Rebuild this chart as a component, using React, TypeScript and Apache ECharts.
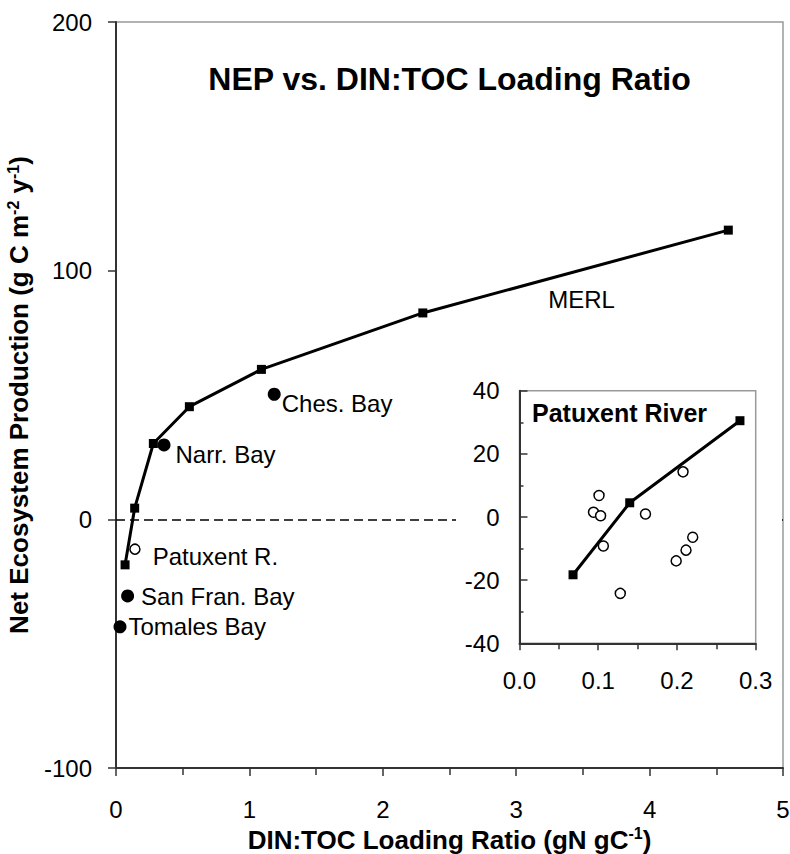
import React, { useEffect, useRef } from "react";
import * as echarts from "echarts";

const FONT = "'Liberation Sans', Arial, Helvetica, sans-serif";

const mainTitle = "NEP vs. DIN:TOC Loading Ratio";
const insetTitle = "Patuxent River";
const xAxisTitle = "DIN:TOC Loading Ratio (gN gC{sup|-1})";
const yAxisTitle = "Net Ecosystem Production (g C m{sup|-2} y{sup|-1})";

// MERL mesocosm model relationship (filled squares, solid line)
const modelRatio = [0.068, 0.14, 0.28, 0.55, 1.09, 2.3, 4.59];
const modelNEP = [-18.3, 4.5, 30.5, 45.3, 60.3, 83, 116.3];
const insetModelCount = 3;

// Estuaries (filled circles)
const estuaryNames = ["Tomales Bay", "San Fran. Bay", "Narr. Bay", "Ches. Bay"];
const estuaryRatio = [0.03, 0.087, 0.36, 1.186];
const estuaryNEP = [-43.2, -30.8, 29.9, 50.3];

// Patuxent R. mean (open circle on main chart)
const patuxentName = "Patuxent R.";
const patuxentRatio = [0.142];
const patuxentNEP = [-12];

// Patuxent River individual years (inset, open circles)
const yearRatio = [0.094, 0.101, 0.103, 0.1065, 0.128, 0.16, 0.199, 0.2077, 0.2115, 0.22];
const yearNEP = [1.5, 6.8, 0.4, -9.2, -24.2, 0.95, -13.9, 14.3, -10.5, -6.4];

// Free text label
const merlText = "MERL";
const merlRatio = [3.49];
const merlNEP = [88.6];

// label placement styles (distance, [dx, dy]) for estuary labels
const estuaryLabelStyle = [
  { distance: 2, offset: [0, 0] },
  { distance: 7, offset: [0, 1] },
  { distance: 5, offset: [0, 10] },
  { distance: 1, offset: [0, 9] },
];

const axisLineStyle = { color: "#333", width: 2 };
const tickLineStyle = { color: "#333", width: 1.5 };
const tickLabel = { fontSize: 24, color: "#000", fontFamily: FONT };

export default function App() {
  const ref = useRef<HTMLDivElement>(null);
  useEffect(() => {
    document.body.style.margin = "0";
    const chart = echarts.init(ref.current!, null, { renderer: "svg" });
    const nameStyle = {
      fontSize: 26,
      fontWeight: "bold",
      color: "#000",
      fontFamily: FONT,
      lineHeight: 28,
      rich: {
        sup: { fontSize: 16, fontWeight: "bold", color: "#000", fontFamily: FONT, verticalAlign: "top", lineHeight: 10 },
      },
    };
    const option: any = {
      animation: false,
      backgroundColor: "#fff",
      grid: [
        {
          left: 116, right: 7, top: 22, bottom: 86,
          show: true, borderColor: "#999", borderWidth: 1.5, backgroundColor: "transparent",
          z: 0, outerBoundsMode: "none",
        },
        {
          left: 519.5, right: 34.3, top: 390.7, bottom: 210.7,
          show: true, borderColor: "#999", borderWidth: 1.5, backgroundColor: "#fff",
          z: 60, outerBoundsMode: "none",
        },
      ],
      xAxis: [
        {
          gridIndex: 0, type: "value", min: 0, max: 5, interval: 1, z: 1,
          axisLine: { show: true, onZero: false, lineStyle: axisLineStyle },
          axisTick: { show: true, length: 8, lineStyle: tickLineStyle },
          minorTick: { show: true, splitNumber: 2, length: 7, lineStyle: tickLineStyle },
          axisLabel: { ...tickLabel, margin: 29 },
          splitLine: { show: false },
          name: xAxisTitle, nameLocation: "middle", nameGap: 55,
          nameTextStyle: nameStyle,
        },
        {
          gridIndex: 1, type: "value", min: 0, max: 0.3, interval: 0.1, z: 61,
          axisLine: { show: true, onZero: false, lineStyle: axisLineStyle },
          axisTick: { show: true, length: 7, lineStyle: tickLineStyle },
          minorTick: { show: true, splitNumber: 2, length: 6, lineStyle: tickLineStyle },
          axisLabel: { ...tickLabel, margin: 25, formatter: (v: number) => v.toFixed(1) },
          splitLine: { show: false },
        },
      ],
      yAxis: [
        {
          gridIndex: 0, type: "value", min: -100, max: 200, interval: 100, z: 1,
          axisLine: { show: true, onZero: false, lineStyle: axisLineStyle },
          axisTick: { show: true, length: 8, lineStyle: tickLineStyle },
          axisLabel: { ...tickLabel, margin: 24 },
          splitLine: { show: false },
          name: yAxisTitle, nameLocation: "middle", nameGap: 74,
          nameTextStyle: nameStyle,
        },
        {
          gridIndex: 1, type: "value", min: -40, max: 40, interval: 20, z: 61,
          axisLine: { show: true, onZero: false, lineStyle: axisLineStyle },
          axisTick: { show: true, inside: true, length: 8, lineStyle: tickLineStyle },
          minorTick: { show: true, splitNumber: 2, length: 4, lineStyle: tickLineStyle },
          axisLabel: { ...tickLabel, margin: 20 },
          splitLine: { show: false },
        },
      ],
      graphic: [
        {
          type: "rect", z: 50, silent: true,
          shape: { x: 456, y: 378, width: 326, height: 322 },
          style: { fill: "#fff" },
        },
        {
          type: "text", x: 449.5, y: 78.5, z: 100,
          style: {
            text: mainTitle, font: `bold 32px ${FONT}`, fill: "#000",
            textAlign: "center", textVerticalAlign: "middle",
          },
        },
        {
          type: "text", x: 532, y: 412.5, z: 100,
          style: {
            text: insetTitle, font: `bold 25px ${FONT}`, fill: "#000",
            textAlign: "left", textVerticalAlign: "middle",
          },
        },
      ],
      series: [
        {
          type: "line", xAxisIndex: 0, yAxisIndex: 0, z: 3,
          data: modelRatio.map((x, i) => [x, modelNEP[i]]),
          symbol: "rect", symbolSize: 9, showSymbol: true,
          lineStyle: { color: "#000", width: 3 },
          itemStyle: { color: "#000", opacity: 1 },
          markLine: {
            silent: true, symbol: ["none", "none"], label: { show: false },
            lineStyle: { color: "#000", width: 1.5, type: [9, 5] },
            data: [{ yAxis: 0 }],
          },
        },
        {
          type: "scatter", xAxisIndex: 0, yAxisIndex: 0, z: 4,
          symbol: "circle", symbolSize: 13,
          itemStyle: { color: "#000", opacity: 1 },
          data: estuaryNames.map((n, i) => ({
            name: n,
            value: [estuaryRatio[i], estuaryNEP[i]],
            label: {
              show: true, position: "right", formatter: n,
              distance: estuaryLabelStyle[i].distance, offset: estuaryLabelStyle[i].offset,
              fontSize: 24, color: "#000", fontFamily: FONT,
            },
          })),
        },
        {
          type: "scatter", xAxisIndex: 0, yAxisIndex: 0, z: 4,
          symbol: "circle", symbolSize: 10,
          itemStyle: { color: "#fff", borderColor: "#000", borderWidth: 1.5, opacity: 1 },
          data: patuxentRatio.map((x, i) => ({
            name: patuxentName,
            value: [x, patuxentNEP[i]],
            label: {
              show: true, position: "right", formatter: patuxentName,
              distance: 12, offset: [0, 7],
              fontSize: 24, color: "#000", fontFamily: FONT,
            },
          })),
        },
        {
          type: "scatter", xAxisIndex: 0, yAxisIndex: 0, z: 4,
          symbolSize: 0,
          itemStyle: { opacity: 1 },
          data: merlRatio.map((x, i) => ({ name: merlText, value: [x, merlNEP[i]] })),
          label: {
            show: true, position: "inside", formatter: merlText,
            fontSize: 24, color: "#000", fontFamily: FONT,
          },
        },
        {
          type: "line", xAxisIndex: 1, yAxisIndex: 1, z: 70,
          data: modelRatio.slice(0, insetModelCount).map((x, i) => [x, modelNEP[i]]),
          symbol: "rect", symbolSize: 9, showSymbol: true,
          lineStyle: { color: "#000", width: 3 },
          itemStyle: { color: "#000", opacity: 1 },
          markLine: {
            silent: true, symbol: ["none", "none"], label: { show: false },
            lineStyle: { color: "#000", width: 1.5, type: [9, 5] },
            data: [{ yAxis: 0 }],
          },
        },
        {
          type: "scatter", xAxisIndex: 1, yAxisIndex: 1, z: 71,
          symbol: "circle", symbolSize: 10,
          itemStyle: { color: "#fff", borderColor: "#000", borderWidth: 1.5, opacity: 1 },
          data: yearRatio.map((x, i) => [x, yearNEP[i]]),
        },
      ],
    };
    chart.setOption(option);
    return () => chart.dispose();
  }, []);
  return <div ref={ref} style={{ width: 790, height: 854 }} />;
}
